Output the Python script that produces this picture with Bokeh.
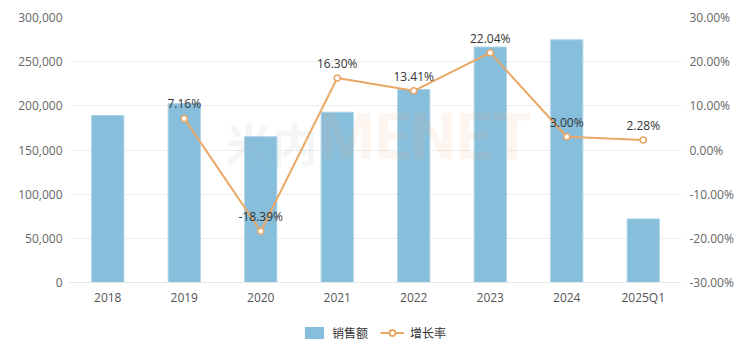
from bokeh.plotting import figure
from bokeh.layouts import column
from bokeh.models import (Range1d, LinearAxis, FixedTicker, NumeralTickFormatter,
                          ColumnDataSource, Legend, LegendItem, Label)
from bokeh.core.properties import value
from bokeh.embed import file_html
from bokeh.resources import INLINE

categories = ["2018", "2019", "2020", "2021", "2022", "2023", "2024", "2025Q1"]
sales = [189000, 202500, 165000, 192800, 218500, 266500, 274700, 72000]
growth_cats = ["2019", "2020", "2021", "2022", "2023", "2024", "2025Q1"]
growth = [7.16, -18.39, 16.30, 13.41, 22.04, 3.00, 2.28]
growth_labels = ["7.16%", "-18.39%", "16.30%", "13.41%", "22.04%", "3.00%", "2.28%"]
left_ticks = [0, 50000, 100000, 150000, 200000, 250000, 300000]
right_ticks = [-0.3, -0.2, -0.1, 0.0, 0.1, 0.2, 0.3]

BAR = "#86bedb"
LINE = "#e9a866"
FONT = "Noto Sans CJK SC"
NUMFONT = "Open Sans"

p = figure(x_range=categories, width=750, height=304, output_backend="svg",
           toolbar_location=None, min_border_left=69, min_border_right=69,
           min_border_top=17, min_border_bottom=0, frame_height=265)
p.y_range = Range1d(0, 300000)
p.extra_y_ranges = {"pct": Range1d(-0.30, 0.30)}
p.outline_line_color = None
p.background_fill_color = "white"

src = ColumnDataSource(dict(cat=categories, sales=sales))
bars = p.vbar(x="cat", top="sales", width=0.42, source=src, fill_color=BAR,
              line_color="#a8d1e6", line_width=1)

gsrc = ColumnDataSource(dict(cat=growth_cats, g=[v / 100 for v in growth], lbl=growth_labels))
line = p.line(x="cat", y="g", source=gsrc, line_color=LINE, line_width=2,
              y_range_name="pct")
pts = p.scatter(x="cat", y="g", source=gsrc, size=6, fill_color="white",
                line_color=LINE, line_width=1.5, y_range_name="pct")
p.text(x="cat", y="g", text="lbl", source=gsrc, y_range_name="pct",
       text_align="center", text_baseline="bottom", y_offset=-6,
       text_font=value(NUMFONT), text_font_size="12px", text_color="#333333")

# watermark (faint, over the marks)
p.add_layout(Label(x=156, y=108, x_units="screen", y_units="screen", text="米内",
                   text_font_size="46px", text_font=FONT, text_color="#9fb6c4",
                   text_alpha=0.12, text_font_style="bold"))
p.add_layout(Label(x=249, y=108, x_units="screen", y_units="screen", text="MENET",
                   text_font_size="64px", text_font="Roboto", text_color="#f2b07a",
                   text_alpha=0.12, text_font_style="bold"))

# left axis
ya = p.yaxis[0]
ya.ticker = FixedTicker(ticks=left_ticks)
ya.formatter = NumeralTickFormatter(format="0,0")
ya.axis_line_color = None
ya.major_tick_line_color = None
ya.minor_tick_line_color = None
ya.major_tick_out = 0
ya.major_label_text_color = "#666666"
ya.major_label_text_font = NUMFONT
ya.major_label_text_font_size = "12px"
ya.major_label_standoff = 7

ra = LinearAxis(y_range_name="pct")
ra.ticker = FixedTicker(ticks=right_ticks)
ra.formatter = NumeralTickFormatter(format="0.00%")
ra.axis_line_color = None
ra.major_tick_line_color = None
ra.minor_tick_line_color = None
ra.major_tick_out = 0
ra.major_label_text_color = "#666666"
ra.major_label_text_font = NUMFONT
ra.major_label_text_font_size = "12px"
ra.major_label_standoff = 8
p.add_layout(ra, "right")

xa = p.xaxis[0]
xa.axis_line_color = "#e6e6e6"
xa.major_tick_line_color = None
xa.minor_tick_line_color = None
xa.major_tick_out = 0
xa.major_label_text_color = "#555555"
xa.major_label_text_font = NUMFONT
xa.major_label_text_font_size = "12px"
xa.major_label_standoff = 6

p.xgrid.grid_line_color = None
p.ygrid.grid_line_color = "#eeeeee"
p.ygrid.ticker = FixedTicker(ticks=left_ticks)

# legend strip
lf = figure(width=750, height=49, output_backend="svg", toolbar_location=None,
            x_axis_type=None, y_axis_type=None, min_border=0,
            x_range=Range1d(0, 1), y_range=Range1d(0, 1))
lf.outline_line_color = None
lf.grid.grid_line_color = None
off = ColumnDataSource(dict(x=[-10], y=[-10]))
lb = lf.vbar(x="x", top="y", width=0.1, source=off, fill_color=BAR, line_color=None)
ll = lf.line(x="x", y="y", source=off, line_color=LINE, line_width=2)
lp = lf.scatter(x="x", y="y", source=off, size=10, fill_color="white",
                line_color=LINE, line_width=2)
legend = Legend(items=[LegendItem(label="销售额", renderers=[lb]),
                       LegendItem(label="增长率", renderers=[ll, lp])],
                orientation="horizontal", location=(233, 16),
                label_text_font=FONT, label_text_font_size="12px",
                label_text_color="#333333", glyph_width=24, glyph_height=15,
                spacing=12, label_standoff=6, border_line_color=None,
                background_fill_alpha=0, padding=0, margin=0)
lf.add_layout(legend, "center")

layout = column(p, lf, spacing=0)
open("out.html", "w").write(file_html(layout, INLINE))
